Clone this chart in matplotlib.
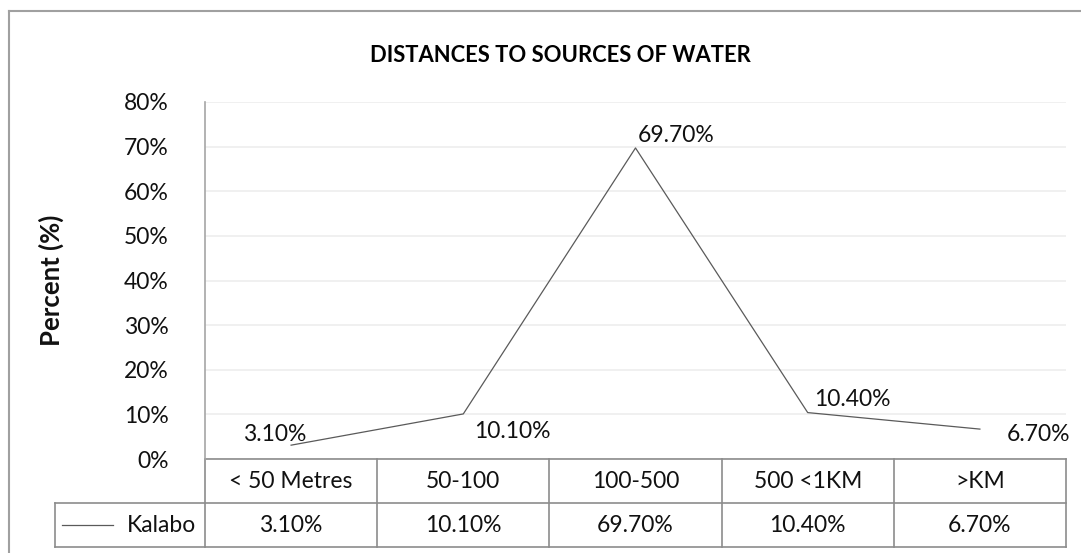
import numpy as np
import matplotlib.pyplot as plt
from matplotlib.transforms import blended_transform_factory
from matplotlib.lines import Line2D

plt.rcParams['font.family'] = ['Lato', 'DejaVu Sans']

# chart data
categories = ['< 50 Metres', '50-100', '100-500', '500 <1KM', '>KM']
kalabo = [0.031, 0.101, 0.697, 0.104, 0.067]
series_name = 'Kalabo'
yticks = [0.0, 0.1, 0.2, 0.3, 0.4, 0.5, 0.6, 0.7, 0.8]

# label offsets in pixels (dx, dy) for each data label
label_offsets = [(-16, 11), (49, -18), (41, 12), (45, 13), (59, -5)]

W, H = 1081, 553
FS = 16.5
TXT = '#111111'
fig = plt.figure(figsize=(W / 100, H / 100), dpi=100)
ax = fig.add_axes([205 / W, (H - 459) / H, (1066 - 205) / W, (459 - 102) / H])

x = np.arange(len(categories))
ax.plot(x, kalabo, color='#5a5a5a', lw=0.9)
for xi, v, (dx, dy) in zip(x, kalabo, label_offsets):
    ax.annotate(f'{v * 100:.2f}%', (xi, v), xytext=(dx, dy), textcoords='offset pixels',
                ha='center', va='center', fontsize=FS, color=TXT)

ax.set_xlim(-0.5, len(categories) - 0.5)
ax.set_ylim(0, 0.8)
ax.set_yticks(yticks)
ax.set_yticklabels([f'{int(round(t * 100))}%' for t in yticks], fontsize=FS, color=TXT)
ax.tick_params(axis='y', length=0, pad=26)
ax.set_xticks([])
ax.grid(axis='y', color='#ededed', lw=1.2)
ax.set_axisbelow(True)
for s in ['top', 'right', 'bottom']:
    ax.spines[s].set_visible(False)
ax.spines['left'].set_color('#a6a6a6')
ax.spines['left'].set_linewidth(1.2)

ax.set_ylabel('Percent (%)', fontsize=18.5, fontweight='bold', color=TXT)
ax.yaxis.set_label_coords(-141 / (1066 - 205), 0.5)

# data table below the axis
tr = blended_transform_factory(ax.transData, ax.transAxes)
row_h = 44 / 357
grid_col = '#8c8c8c'
left_x = -0.5 - 150 / 172.2
n = len(categories)
# horizontal lines
ax.plot([-0.5, n - 0.5], [0, 0], transform=tr, clip_on=False, color=grid_col, lw=1.2)
ax.plot([left_x, n - 0.5], [-row_h, -row_h], transform=tr, clip_on=False, color=grid_col, lw=1.2)
ax.plot([left_x, n - 0.5], [-2 * row_h, -2 * row_h], transform=tr, clip_on=False, color=grid_col, lw=1.2)
# vertical lines
ax.plot([left_x, left_x], [-row_h, -2 * row_h], transform=tr, clip_on=False, color=grid_col, lw=1.2)
for b in np.arange(n + 1) - 0.5:
    ax.plot([b, b], [0, -2 * row_h], transform=tr, clip_on=False, color=grid_col, lw=1.2)
# cell text
for xi, cat, v in zip(x, categories, kalabo):
    ax.text(xi, -0.5 * row_h, cat, transform=tr, ha='center', va='center', fontsize=FS, color=TXT)
    ax.text(xi, -1.5 * row_h, f'{v * 100:.2f}%', transform=tr, ha='center', va='center',
            fontsize=FS, color=TXT)
# legend key in the row header
key_x0 = -0.5 - 143 / 172.2
key_x1 = -0.5 - 92 / 172.2
ax.plot([key_x0, key_x1], [-1.5 * row_h, -1.5 * row_h], transform=tr, clip_on=False, color='#5a5a5a', lw=0.9)
ax.text(-0.5 - 9 / 172.2, -1.5 * row_h, series_name, transform=tr, ha='right', va='center',
        fontsize=FS, color=TXT)

fig.text(560 / W, 1 - 56 / H, 'DISTANCES TO SOURCES OF WATER', ha='center', va='center',
         fontsize=15.8, fontweight='bold', color='#000000')

# outer chart border (left and top edges visible)
fig.add_artist(Line2D([9 / W, 9 / W], [0, 1 - 11 / H], color='#a0a0a0', lw=1.5))
fig.add_artist(Line2D([9 / W, 1], [1 - 11 / H, 1 - 11 / H], color='#a0a0a0', lw=1.5))

fig.savefig('out.png', dpi=100)
